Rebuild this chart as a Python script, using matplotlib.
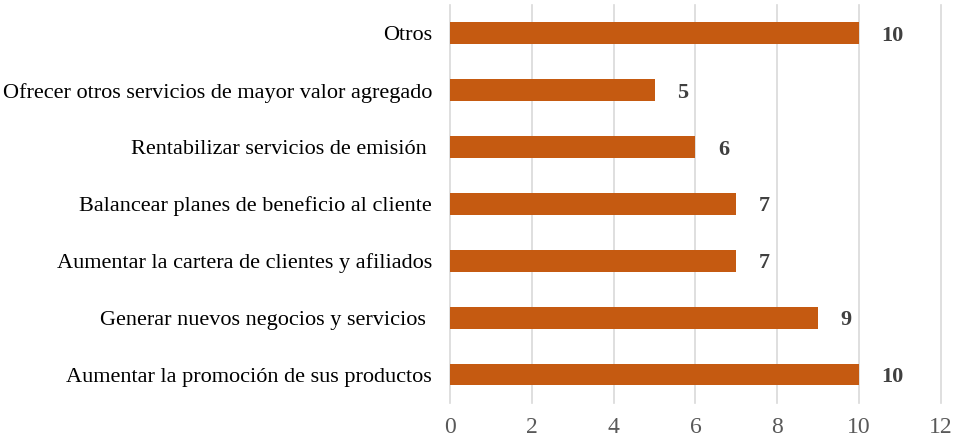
import matplotlib.pyplot as plt

categorias = [
    "Aumentar la promoción de sus productos",
    "Generar nuevos negocios y servicios ",
    "Aumentar la cartera de clientes y afiliados",
    "Balancear planes de beneficio al cliente",
    "Rentabilizar servicios de emisión ",
    "Ofrecer otros servicios de mayor valor agregado",
    "Otros",
]
valores = [10, 9, 7, 7, 6, 5, 10]
ticks_x = [0, 2, 4, 6, 8, 10, 12]

plt.rcParams['font.family'] = ['Liberation Serif', 'DejaVu Serif']

fig = plt.figure(figsize=(9.64, 4.42), dpi=100)
ax = fig.add_axes([0.4668, 0.088, 0.976 - 0.4668, 0.901])

pos = list(range(len(categorias)))
ax.barh(pos, valores, height=0.38, color='#C55A11', zorder=3)
for p, v in zip(pos, valores):
    ax.text(v + 0.55, p, str(v), va='center_baseline', ha='left', fontsize=16,
            fontweight='bold', color='#404040', zorder=4)

ax.set_xlim(0, 12)
ax.set_ylim(-0.5, len(categorias) - 0.5)
ax.set_xticks(ticks_x)
ax.set_xticklabels([str(t) for t in ticks_x])
ax.set_yticks(pos)
ax.set_yticklabels(categorias)
ax.tick_params(axis='x', length=0, labelsize=17, labelcolor='#595959', pad=10)
ax.tick_params(axis='y', length=0, labelsize=16, labelcolor='black', pad=13)
ax.grid(axis='x', color='#D9D9D9', linewidth=1.2, zorder=0, clip_on=False)
for s in ax.spines.values():
    s.set_visible(False)

fig.savefig('out.png', dpi=100)
